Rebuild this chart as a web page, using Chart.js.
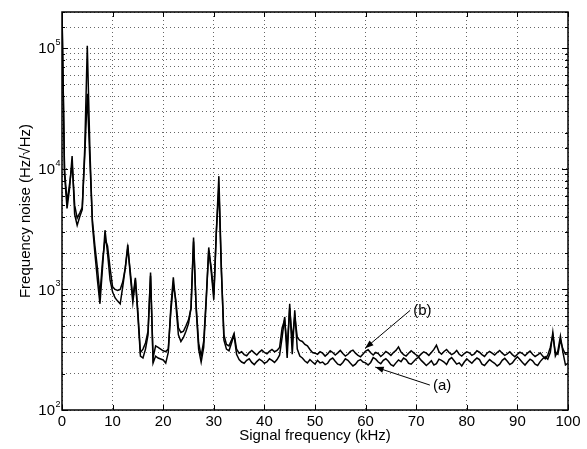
<!DOCTYPE html>
<html>
<head>
<meta charset="utf-8">
<script src="https://cdn.jsdelivr.net/npm/chart.js@4"></script>
<style>
  html, body { margin: 0; padding: 0; background: #fff; }
</style>
</head>
<body>
<div style="width:587px;height:449px"><canvas id="noise-chart" width="587" height="449"></canvas></div>
<script>
// sampling of the spectrum, kHz
const freqStep = 0.5;

// trace (a), 0 .. 50 kHz
const traceA_low = [
  200000, 9000, 4700, 6900, 12800, 4200, 3400, 4000, 4600, 15000,
  105000, 15000, 3500, 2000, 1200, 760, 1500, 3100, 2000, 1200,
  950, 850, 800, 760, 1050, 1500, 2350, 1300, 780, 1200,
  600, 280, 270, 320, 420, 1380, 245, 280, 270, 265,
  260, 245, 300, 700, 1260, 750, 420, 370, 400, 450,
  520, 700, 2700, 700, 320, 250, 330, 800, 2230, 1400,
  820, 3000, 8700, 1500, 380, 320, 310, 360, 420, 290,
  262, 250, 244, 258, 266, 248, 238, 252, 264, 256,
  244, 250, 266, 258, 248, 262, 285, 400, 590, 270,
  760, 290, 670, 320, 280, 270, 255, 246, 262, 250,
  240
];
// trace (a), 50.5 .. 100 kHz
const traceA_high = [
  258, 246, 250, 238, 244, 262, 270, 254, 240, 236,
  248, 266, 258, 244, 232, 240, 256, 262, 250, 246,
  236, 248, 272, 264, 250, 242, 258, 266, 254, 238,
  232, 246, 260, 252, 270, 262, 244, 240, 252, 266,
  274, 258, 246, 234, 244, 256, 236, 242, 264, 258,
  250, 238, 262, 272, 256, 240, 246, 232, 250, 266,
  254, 244, 258, 270, 262, 240, 234, 248, 262, 252,
  244, 232, 240, 258, 268, 254, 238, 246, 262, 276,
  262, 248, 236, 250, 264, 256, 240, 234, 252, 266,
  276, 264, 300, 440, 280, 310, 410, 300, 236, 245
];

// trace (b), 0 .. 50 kHz
const traceB_low = [
  200000, 9800, 5300, 7500, 11000, 5000, 3900, 4300, 4800, 13000,
  42000, 12000, 3800, 2300, 1500, 900, 1700, 2600, 2300, 1500,
  1050, 1000, 980, 1000, 1150, 1500, 2200, 1400, 850, 1250,
  650, 300, 320, 360, 450, 1300, 270, 340, 330, 320,
  310, 305, 320, 650, 1100, 820, 480, 440, 450, 500,
  560, 700, 2500, 750, 360, 280, 370, 850, 2100, 1500,
  900, 3000, 7000, 1400, 420, 350, 340, 380, 430, 320,
  296, 304, 288, 282, 300, 312, 298, 286, 302, 314,
  300, 292, 306, 318, 304, 312, 330, 480, 560, 330,
  700, 380, 600, 400, 378, 370, 350, 340, 318, 300,
  296
];
// trace (b), 50.5 .. 100 kHz
const traceB_high = [
  290, 304, 296, 280, 292, 310, 300, 286, 298, 312,
  294, 280, 290, 306, 314, 296, 284, 276, 292, 308,
  316, 298, 286, 300, 294, 278, 290, 306, 296, 284,
  300, 312, 334, 302, 288, 280, 296, 310, 298, 286,
  278, 292, 304, 296, 284, 300, 318, 345, 304, 290,
  306, 318, 300, 288, 296, 312, 290, 280, 294, 304,
  298, 284, 292, 310, 302, 288, 278, 296, 306, 296,
  286, 300, 312, 296, 284, 292, 304, 288, 276, 290,
  302, 294, 282, 296, 308, 290, 278, 286, 298, 280,
  266, 285, 330, 420, 300, 290, 380, 320, 290, 292
];

// decade labels on the y axis: mantissa and exponent
const yDecades = [100, 1000, 10000, 100000];
const yExponents = ['2', '3', '4', '5'];

// text callouts with arrows, in data units (kHz, Hz/√Hz)
const callouts = [
  { text: '(b)', label: [69.4, 658], from: [68.8, 670], to: [59.9, 325] },
  { text: '(a)', label: [73.3, 158], from: [72.7, 161], to: [61.9, 227] }
];

const traceA = traceA_low.concat(traceA_high);
const traceB = traceB_low.concat(traceB_high);
const toPoints = vals => vals.map((v, i) => ({ x: i * freqStep, y: v }));

const FONT = '"Liberation Sans", Arial, sans-serif';
Chart.defaults.font.family = FONT;
Chart.defaults.font.size = 15;
Chart.defaults.color = '#000';

// black box, inward tick marks, 10^n labels and the (a)/(b) callouts
const framePlugin = {
  id: 'frame',
  afterDatasetsDraw(chart) {
    const { ctx, chartArea: a, scales: { x, y } } = chart;
    ctx.save();
    ctx.strokeStyle = '#000';
    ctx.lineWidth = 1;
    ctx.beginPath();
    x.ticks.forEach(t => {
      const px = Math.round(x.getPixelForValue(t.value)) + 0.5;
      ctx.moveTo(px, a.bottom); ctx.lineTo(px, a.bottom - 5);
      ctx.moveTo(px, a.top); ctx.lineTo(px, a.top + 5);
    });
    y.ticks.forEach(t => {
      const py = Math.round(y.getPixelForValue(t.value)) + 0.5;
      const len = yDecades.includes(t.value) ? 6 : 3;
      ctx.moveTo(a.left, py); ctx.lineTo(a.left + len, py);
      ctx.moveTo(a.right, py); ctx.lineTo(a.right - len, py);
    });
    ctx.stroke();
    ctx.lineWidth = 1.5;
    ctx.strokeRect(a.left, a.top, a.right - a.left, a.bottom - a.top);

    ctx.fillStyle = '#000';
    yDecades.forEach((v, i) => {
      const py = y.getPixelForValue(v);
      ctx.font = '15px ' + FONT;
      ctx.textAlign = 'right';
      ctx.textBaseline = 'middle';
      ctx.fillText('10', a.left - 7, py + 1);
      ctx.font = '9px ' + FONT;
      ctx.textAlign = 'left';
      ctx.textBaseline = 'alphabetic';
      ctx.fillText(yExponents[i], a.left - 6.5, py - 3);
    });

    ctx.lineWidth = 1;
    ctx.font = '15px ' + FONT;
    ctx.textAlign = 'left';
    ctx.textBaseline = 'middle';
    callouts.forEach(c => {
      const x0 = x.getPixelForValue(c.from[0]), y0 = y.getPixelForValue(c.from[1]);
      const x1 = x.getPixelForValue(c.to[0]), y1 = y.getPixelForValue(c.to[1]);
      const ang = Math.atan2(y1 - y0, x1 - x0);
      ctx.beginPath();
      ctx.moveTo(x0, y0); ctx.lineTo(x1, y1);
      ctx.stroke();
      ctx.beginPath();
      ctx.moveTo(x1, y1);
      ctx.lineTo(x1 - 9 * Math.cos(ang - 0.35), y1 - 9 * Math.sin(ang - 0.35));
      ctx.lineTo(x1 - 9 * Math.cos(ang + 0.35), y1 - 9 * Math.sin(ang + 0.35));
      ctx.closePath();
      ctx.fill();
      ctx.fillText(c.text, x.getPixelForValue(c.label[0]), y.getPixelForValue(c.label[1]));
    });
    ctx.restore();
  }
};

const lineStyle = { borderColor: '#000', borderWidth: 1.5, pointRadius: 0, tension: 0, fill: false };

new Chart(document.getElementById('noise-chart').getContext('2d'), {
  type: 'line',
  data: {
    datasets: [
      Object.assign({ label: '(a)', data: toPoints(traceA) }, lineStyle),
      Object.assign({ label: '(b)', data: toPoints(traceB) }, lineStyle)
    ]
  },
  options: {
    responsive: false,
    animation: false,
    layout: { padding: { top: 10, right: 19, bottom: 0, left: 0 } },
    plugins: { legend: { display: false }, tooltip: { enabled: false } },
    scales: {
      x: {
        type: 'linear',
        min: 0,
        max: 100,
        ticks: { stepSize: 10, padding: 3, maxRotation: 0 },
        grid: { color: '#666', lineWidth: 1, drawTicks: false },
        border: { display: false, dash: [1, 3] },
        title: { display: true, text: 'Signal frequency (kHz)' },
        afterFit: s => { s.height = 39; }
      },
      y: {
        type: 'logarithmic',
        min: 100,
        max: 200000,
        ticks: { autoSkip: false, padding: 3, callback: () => '' },
        grid: { color: '#666', lineWidth: 1, drawTicks: false },
        border: { display: false, dash: [1, 3] },
        title: { display: true, text: 'Frequency noise (Hz/√Hz)', padding: { top: 17, bottom: 0 } },
        afterFit: s => { s.width = 62; }
      }
    }
  },
  plugins: [framePlugin]
});
</script>
</body>
</html>
